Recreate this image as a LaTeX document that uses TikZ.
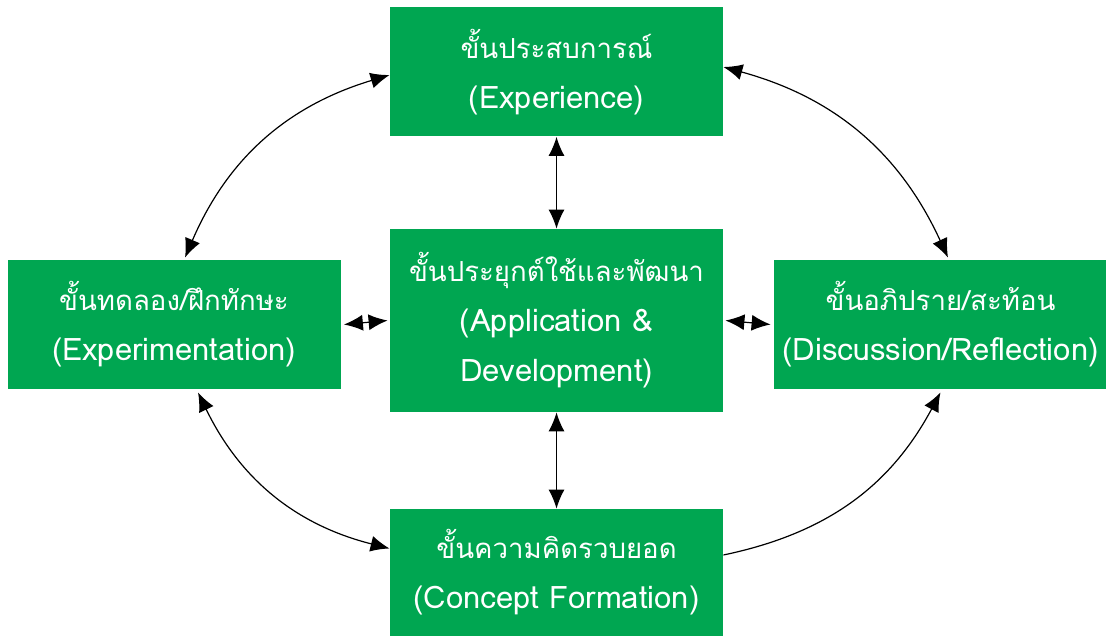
\documentclass[tikz,border=0pt]{standalone}
\usepackage{fontspec}
\newfontfamily\thaifont[Script=Thai]{Loma}
\usetikzlibrary{arrows.meta}
\definecolor{stagegreen}{HTML}{00A651}
\newcommand{\thline}[1]{{\fontsize{13.8}{25}\selectfont #1}}

\begin{document}
\begin{tikzpicture}[x=0.5pt,y=-0.5pt,
  stage/.style={rectangle, fill=stagegreen, text=white, align=center, inner sep=0pt,
    font=\thaifont\fontsize{15.5}{25}\selectfont, minimum width=166.5pt, minimum height=64.5pt},
  link/.style={line width=0.6pt, {Latex[length=9.5pt,width=8pt]}-{Latex[length=9.5pt,width=8pt]}},
  onelink/.style={line width=0.6pt, -{Latex[length=9.5pt,width=8pt]}}]
  \useasboundingbox (0,0) rectangle (1106,636);
  \node[stage] (exper) at (556.5,72) {\thline{ขั้นประสบการณ์}\\(Experience)};
  \node[stage] (experim) at (174,324.5) {\thline{ขั้นทดลอง/ฝึกทักษะ}\\(Experimentation)};
  \node[stage, minimum height=91.5pt] (apply) at (556.5,320.5) {\thline{ขั้นประยุกต์ใช้และพัฒนา}\\(Application \&\\Development)};
  \node[stage] (discuss) at (940.5,324.5) {\thline{ขั้นอภิปราย/สะท้อน}\\(Discussion/Reflection)};
  \node[stage, minimum height=63.5pt] (concept) at (556.5,572.5) {\thline{ขั้นความคิดรวบยอด}\\(Concept Formation)};
  % straight links
  \draw[link] (exper) -- (apply);
  \draw[link] (apply) -- (concept);
  \draw[link] ([xshift=1.5pt]experim.east) -- ([xshift=-1pt]apply.west);
  \draw[link] ([xshift=1pt]apply.east) -- ([xshift=-1.5pt]discuss.west);
  % outer cycle
  \draw[link] ([yshift=-1.5pt]exper.west) to[bend right=25] ([xshift=5.5pt,yshift=1pt]experim.north);
  \draw[link] ([yshift=2.5pt]exper.east) to[bend left=25] ([xshift=3.75pt,yshift=1pt]discuss.north);
  \draw[link] ([xshift=12pt,yshift=-1.5pt]experim.south) to[bend right=25] ([yshift=12pt]concept.west);
  \draw[onelink] ([yshift=8.75pt]concept.east) to[bend right=25] ([yshift=-1.5pt]discuss.south);
\end{tikzpicture}
\end{document}
